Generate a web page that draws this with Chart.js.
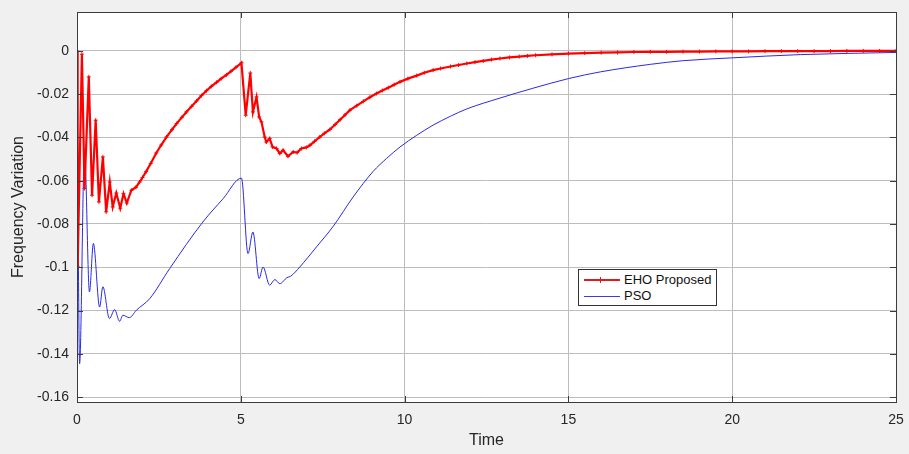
<!DOCTYPE html>
<html>
<head>
<meta charset="utf-8">
<script src="https://cdn.jsdelivr.net/npm/chart.js@4"></script>
<style>
  body { margin: 0; background: #f0f0f0; }
  #wrap { position: relative; width: 909px; height: 454px; }
  #legend {
    position: absolute; left: 578px; top: 269px; width: 139px; height: 37px;
    background: #fff; border: 1px solid #333; box-sizing: border-box;
    font-family: "Liberation Sans", Arial, sans-serif; font-size: 13px; color: #111;
  }
  .row { position: absolute; left: 0; height: 16px; }
  .swatch { position: absolute; left: 5px; width: 36px; }
  .mark { position: absolute; left: 21px; top: 5px; width: 1px; height: 6px; background: #e41a1c; }
  .lbl { position: absolute; left: 45px; top: 0; line-height: 16px; white-space: nowrap; }
</style>
</head>
<body>
<div id="wrap">
  <canvas id="freqChart" width="909" height="454"></canvas>
  <div id="legend">
    <div class="row" style="top:2px">
      <div class="swatch" style="top:7px;height:2px;background:#e41a1c"></div>
      <div class="mark"></div>
      <div class="lbl">EHO Proposed</div>
    </div>
    <div class="row" style="top:18px">
      <div class="swatch" style="top:8px;height:1px;background:#3a3ae8"></div>
      <div class="lbl">PSO</div>
    </div>
  </div>
</div>
<script>
// DATA
let ehoTime = [0, 0.02, 0.15, 0.23, 0.36, 0.46, 0.57, 0.67, 0.79, 0.89, 1.00, 1.09, 1.20, 1.32, 1.42, 1.52,
               1.66, 1.80, 1.91, 2.00, 2.11, 2.25, 2.42, 2.57, 2.73, 2.90, 3.04, 3.20, 3.34, 3.50, 3.65, 3.80,
               3.95, 4.10, 4.26, 4.40, 4.56, 4.70, 4.85, 5.02,
               5.15, 5.29, 5.37, 5.48, 5.56, 5.63, 5.73, 5.78, 5.88, 5.97, 6.09, 6.19, 6.29, 6.44, 6.60, 6.72, 6.85,
               7.00, 7.11, 7.25, 7.41, 7.55, 7.72, 7.88, 8.03, 8.18, 8.33, 8.54, 8.74, 8.94, 9.14, 9.32, 9.50, 9.68,
               9.86, 10.1, 10.37, 10.6, 10.87, 11.1, 11.4, 11.65, 11.9, 12.15, 12.4, 12.65, 12.91, 13.2, 13.5,
               13.75, 14.0, 14.5, 15.0, 15.5, 16.0, 16.5, 17.0, 17.5, 18.0, 18.5, 19.0, 19.5, 20.0, 20.5, 21.0,
               21.5, 22.0, 22.5, 23.0, 23.5, 24.0, 24.5, 25.0];
let ehoValue = [0, -0.0995, -0.0015, -0.0636, -0.0120, -0.0667, -0.0320, -0.0698, -0.0490, -0.0744, -0.0606, -0.0721, -0.0657, -0.0727, -0.0660, -0.0703,
                -0.0644, -0.0630, -0.0606, -0.0585, -0.0558, -0.0520, -0.0472, -0.0435, -0.0398, -0.0364, -0.0336, -0.0307, -0.0282, -0.0256, -0.0231, -0.0206,
                -0.0184, -0.0164, -0.0145, -0.0128, -0.0111, -0.0094, -0.0076, -0.0055,
                -0.0297, -0.0102, -0.0282, -0.0213, -0.0305, -0.0328, -0.0398, -0.0421, -0.0405, -0.0444, -0.0451, -0.0474, -0.0459, -0.0487, -0.0467, -0.0470, -0.0451,
                -0.0446, -0.0436, -0.0418, -0.0398, -0.0381, -0.0363, -0.0340, -0.0318, -0.0296, -0.0274, -0.0253, -0.0233, -0.0214, -0.0197, -0.0183, -0.0170, -0.0156,
                -0.0143, -0.0128, -0.0114, -0.0101, -0.0089, -0.0081, -0.0072, -0.0065, -0.0058, -0.0052, -0.0046, -0.0040, -0.0035, -0.0030, -0.0026,
                -0.0023, -0.0020, -0.0016, -0.0012, -0.0010, -0.0008, -0.0007, -0.0005, -0.0004, -0.0004, -0.0003, -0.0003, -0.0002, -0.0002, -0.0002, -0.0001,
                -0.0001, -0.0001, -0.0001, -0.0001, 0, 0, 0, 0];

let psoTime = [0, 0.08, 0.23, 0.38, 0.50, 0.69, 0.79, 0.99, 1.15, 1.30, 1.40, 1.60, 1.81, 2.22, 2.83, 3.84, 4.46, 5.02,
               5.22, 5.37, 5.56, 5.68, 5.88, 6.04, 6.19, 6.41, 6.52, 6.80, 7.31, 7.82, 8.43, 9.04, 9.45, 9.86, 10.37, 10.87, 11.4, 11.9, 12.91,
               13.93, 15.0, 15.97, 17.5, 18.51, 20.0, 22.08, 25.0];
let psoValue = [0, -0.1446, -0.0459, -0.1114, -0.0890, -0.1184, -0.1090, -0.1237, -0.1196, -0.1250, -0.1222, -0.1233, -0.1199, -0.1145, -0.1006, -0.0791, -0.0683, -0.0588,
                -0.0937, -0.0837, -0.1052, -0.0999, -0.1083, -0.1057, -0.1076, -0.1048, -0.1042, -0.0999, -0.0906, -0.0811, -0.0675, -0.0557, -0.0497, -0.0444, -0.0390, -0.0343, -0.0302, -0.0268, -0.0218,
                -0.0172, -0.0128, -0.0097, -0.0062, -0.0045, -0.0032, -0.0017, -0.0007];

let seriesLabels = ['EHO Proposed', 'PSO'];
let xTicks = [0, 5, 10, 15, 20, 25];

function toPoints(t, v) {
    let pts = [];
    for (let i = 0; i < t.length; i++) pts.push({ x: t[i], y: v[i] });
    return pts;
}

const FONT = '"Liberation Sans", Arial, sans-serif';
const INK = '#262626';

// grey figure, white axes, dark box with inward ticks like matlab
const matlabFrame = {
    id: 'matlabFrame',
    beforeDraw(chart) {
        const { ctx, chartArea: a } = chart;
        ctx.save();
        ctx.fillStyle = '#f0f0f0';
        ctx.fillRect(0, 0, chart.width, chart.height);
        ctx.fillStyle = '#ffffff';
        ctx.fillRect(a.left, a.top, a.right - a.left, a.bottom - a.top);
        ctx.restore();
    },
    afterDraw(chart) {
        const { ctx, chartArea: a, scales } = chart;
        ctx.save();
        ctx.strokeStyle = '#3c3c3c';
        ctx.lineWidth = 1;
        ctx.beginPath();
        scales.y.ticks.forEach(t => {
            const py = Math.round(scales.y.getPixelForValue(t.value)) + 0.5;
            ctx.moveTo(a.left, py); ctx.lineTo(a.left + 6, py);
            ctx.moveTo(a.right, py); ctx.lineTo(a.right - 6, py);
        });
        scales.x.ticks.forEach(t => {
            const px = Math.round(scales.x.getPixelForValue(t.value)) + 0.5;
            ctx.moveTo(px, a.bottom); ctx.lineTo(px, a.bottom - 6);
            ctx.moveTo(px, a.top); ctx.lineTo(px, a.top + 6);
        });
        ctx.stroke();
        ctx.strokeRect(Math.round(a.left) + 0.5, Math.round(a.top) + 0.5,
                       Math.round(a.right - a.left), Math.round(a.bottom - a.top));
        ctx.restore();
    }
};

let ctx = document.getElementById('freqChart').getContext('2d');
let freqChart = new Chart(ctx, {
    type: 'line',
    data: {
        datasets: [{
            label: seriesLabels[0],
            data: toPoints(ehoTime, ehoValue),
            borderColor: '#ff0000',
            backgroundColor: '#ff0000',
            borderWidth: 2.2,
            pointStyle: 'cross',
            pointRadius: 2,
            pointBorderWidth: 1,
            pointBorderColor: '#ff0000',
            tension: 0,
            fill: false
        }, {
            label: seriesLabels[1],
            data: toPoints(psoTime, psoValue),
            borderColor: '#2a2ae6',
            backgroundColor: '#2a2ae6',
            borderWidth: 1,
            pointRadius: 0,
            cubicInterpolationMode: 'monotone',
            fill: false
        }]
    },
    options: {
        responsive: false,
        animation: false,
        devicePixelRatio: 1,
        layout: { autoPadding: false, padding: { top: 12, right: 13, left: 0, bottom: 0 } },
        plugins: { legend: { display: false }, tooltip: { enabled: false } },
        scales: {
            x: {
                type: 'linear',
                min: 0, max: 25,
                afterBuildTicks: s => { s.ticks = xTicks.map(v => ({ value: v })); },
                afterFit: s => { s.height = 52; s.paddingLeft = 0; s.paddingRight = 0; },
                grid: { color: '#bdbdbd', drawTicks: false },
                border: { display: false },
                ticks: { padding: 10, color: INK, font: { family: FONT, size: 14 }, maxRotation: 0 },
                title: { display: true, text: 'Time', color: INK, font: { family: FONT, size: 16 }, padding: { top: 0, bottom: 4 } }
            },
            y: {
                min: -0.1623, max: 0.018,
                afterFit: s => { s.width = 77; s.paddingTop = 0; s.paddingBottom = 0; },
                grid: { color: '#bdbdbd', drawTicks: false },
                border: { display: false },
                ticks: {
                    stepSize: 0.02, includeBounds: false, padding: 8, color: INK,
                    font: { family: FONT, size: 14 },
                    callback: v => String(Math.round(v * 100) / 100)
                },
                title: { display: true, text: 'Frequency Variation', color: INK, font: { family: FONT, size: 16 }, padding: { top: 9, bottom: 0 } }
            }
        }
    },
    plugins: [matlabFrame]
});
</script>
</body>
</html>
